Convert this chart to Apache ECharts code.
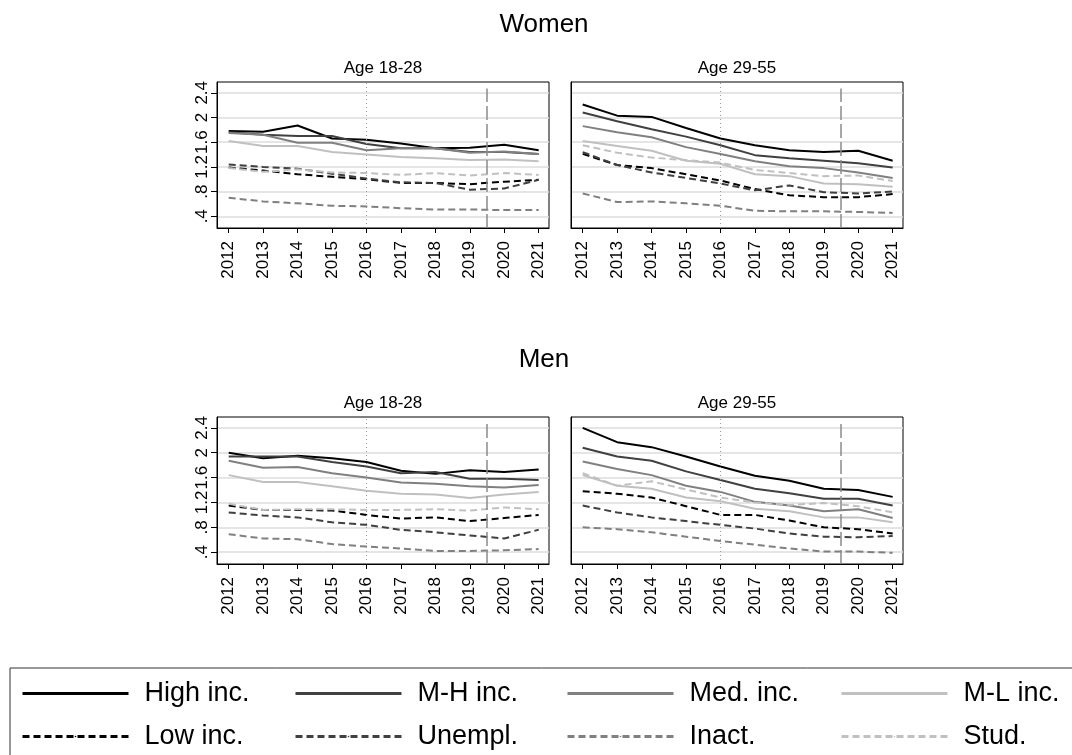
<!DOCTYPE html>
<html><head><meta charset="utf-8">
<script src="https://cdn.jsdelivr.net/npm/echarts@6/dist/echarts.min.js"></script>
<style>html,body{margin:0;padding:0;background:#fff}#c{width:1072px;height:755px}</style>
</head><body><div id="c"></div>
<script>
// ---------- data ----------
const years = [2012, 2013, 2014, 2015, 2016, 2017, 2018, 2019, 2020, 2021];
const yTicks = [0.4, 0.8, 1.2, 1.6, 2.0, 2.4];
const yTickLabels = ['.4', '.8', '1.2', '1.6', '2', '2.4'];
const seriesNames = ['High inc.', 'M-H inc.', 'Med. inc.', 'M-L inc.', 'Low inc.', 'Unempl.', 'Inact.', 'Stud.'];
const groupTitles = ['Women', 'Men'];
const panelTitles = ['Age 18-28', 'Age 29-55'];
const refYear = 2016;
const breakYear = 2019.5;

// Women, age 18-28
const wY_high  = [1.78, 1.77, 1.87, 1.66, 1.64, 1.58, 1.50, 1.51, 1.56, 1.47];
const wY_mh    = [1.76, 1.72, 1.70, 1.70, 1.57, 1.50, 1.50, 1.44, 1.44, 1.41];
const wY_med   = [1.75, 1.72, 1.59, 1.59, 1.47, 1.50, 1.50, 1.43, 1.45, 1.41];
const wY_ml    = [1.62, 1.54, 1.54, 1.44, 1.40, 1.36, 1.34, 1.31, 1.32, 1.29];
const wY_low   = [1.19, 1.14, 1.08, 1.04, 1.00, 0.94, 0.94, 0.92, 0.96, 0.99];
const wY_unemp = [1.24, 1.20, 1.17, 1.09, 1.01, 0.95, 0.94, 0.83, 0.85, 0.99];
const wY_inact = [0.70, 0.64, 0.61, 0.57, 0.56, 0.53, 0.51, 0.51, 0.50, 0.50];
const wY_stud  = [1.18, 1.12, 1.16, 1.11, 1.10, 1.07, 1.10, 1.06, 1.10, 1.07];

// Women, age 29-55
const wO_high  = [2.21, 2.03, 2.01, 1.83, 1.66, 1.55, 1.47, 1.44, 1.46, 1.30];
const wO_mh    = [2.08, 1.94, 1.81, 1.69, 1.55, 1.39, 1.34, 1.30, 1.26, 1.19];
const wO_med   = [1.86, 1.76, 1.68, 1.52, 1.41, 1.29, 1.21, 1.18, 1.11, 1.02];
const wO_ml    = [1.62, 1.54, 1.46, 1.30, 1.25, 1.08, 1.05, 0.93, 0.92, 0.88];
const wO_low   = [1.41, 1.23, 1.18, 1.08, 0.98, 0.84, 0.74, 0.71, 0.71, 0.76];
const wO_unemp = [1.44, 1.23, 1.11, 1.02, 0.93, 0.82, 0.90, 0.79, 0.77, 0.80];
const wO_inact = [0.77, 0.63, 0.64, 0.61, 0.57, 0.49, 0.48, 0.48, 0.47, 0.455];
const wO_stud  = [1.55, 1.43, 1.35, 1.31, 1.27, 1.15, 1.10, 1.05, 1.06, 0.97];

// Men, age 18-28
const mY_high  = [2.00, 1.91, 1.95, 1.91, 1.85, 1.71, 1.66, 1.72, 1.69, 1.73];
const mY_mh    = [1.94, 1.94, 1.94, 1.85, 1.78, 1.67, 1.69, 1.58, 1.58, 1.56];
const mY_med   = [1.87, 1.76, 1.77, 1.67, 1.60, 1.52, 1.50, 1.46, 1.44, 1.48];
const mY_ml    = [1.64, 1.53, 1.53, 1.46, 1.39, 1.34, 1.33, 1.27, 1.33, 1.37];
const mY_low   = [1.15, 1.08, 1.08, 1.07, 1.00, 0.94, 0.96, 0.90, 0.95, 1.00];
const mY_unemp = [1.04, 0.99, 0.96, 0.88, 0.84, 0.76, 0.72, 0.67, 0.62, 0.76];
const mY_inact = [0.69, 0.62, 0.61, 0.53, 0.49, 0.46, 0.42, 0.42, 0.43, 0.45];
const mY_stud  = [1.18, 1.08, 1.09, 1.09, 1.08, 1.08, 1.09, 1.07, 1.12, 1.09];

// Men, age 29-55
const mO_high  = [2.40, 2.17, 2.09, 1.94, 1.78, 1.63, 1.55, 1.42, 1.40, 1.29];
const mO_mh    = [2.08, 1.94, 1.87, 1.70, 1.56, 1.42, 1.35, 1.26, 1.26, 1.15];
const mO_med   = [1.86, 1.74, 1.64, 1.47, 1.37, 1.21, 1.15, 1.06, 1.09, 0.95];
const mO_ml    = [1.64, 1.47, 1.42, 1.28, 1.22, 1.10, 1.06, 0.96, 0.96, 0.88];
const mO_low   = [1.38, 1.34, 1.28, 1.14, 1.00, 1.00, 0.91, 0.80, 0.77, 0.70];
const mO_unemp = [1.15, 1.04, 0.96, 0.90, 0.84, 0.78, 0.70, 0.65, 0.64, 0.66];
const mO_inact = [0.80, 0.77, 0.72, 0.65, 0.58, 0.52, 0.46, 0.41, 0.41, 0.39];
const mO_stud  = [1.67, 1.47, 1.54, 1.41, 1.28, 1.20, 1.16, 1.19, 1.14, 1.04];

// ---------- build ----------
const panels = [
  [wY_high, wY_mh, wY_med, wY_ml, wY_low, wY_unemp, wY_inact, wY_stud],
  [wO_high, wO_mh, wO_med, wO_ml, wO_low, wO_unemp, wO_inact, wO_stud],
  [mY_high, mY_mh, mY_med, mY_ml, mY_low, mY_unemp, mY_inact, mY_stud],
  [mO_high, mO_mh, mO_med, mO_ml, mO_low, mO_unemp, mO_inact, mO_stud]
];
const colors = ['#000000', '#404040', '#808080', '#c0c0c0', '#000000', '#404040', '#808080', '#c0c0c0'];
const dash = [7, 4];
const lineTypes = ['solid', 'solid', 'solid', 'solid', dash, dash, dash, dash];
const FONT = 'Liberation Sans, Arial, sans-serif';

const gridBoxes = [
  {left: 217, top: 82, width: 332, height: 146},
  {left: 571, top: 82, width: 332, height: 146},
  {left: 217, top: 417, width: 332, height: 147},
  {left: 571, top: 417, width: 332, height: 147}
];
const X_MIN = 2011.66, X_MAX = 2021.30, Y_MIN = 0.21, Y_MAX = 2.575;

const grid = gridBoxes.map(b => Object.assign({show: true, borderColor: '#000', borderWidth: 1, backgroundColor: '#fff', containLabel: false}, b));

const xAxis = gridBoxes.map((b, i) => ({
  type: 'value', gridIndex: i, min: X_MIN, max: X_MAX,
  axisLine: {show: true, onZero: false, lineStyle: {color: '#000', width: 1}},
  axisTick: {show: true, customValues: years, length: 5, lineStyle: {color: '#000', width: 1}},
  axisLabel: {show: true, customValues: years, rotate: 90, fontSize: 17, color: '#000', fontFamily: FONT, margin: 13,
              formatter: v => String(Math.round(v))},
  splitLine: {show: false}
}));

const yAxis = gridBoxes.map((b, i) => ({
  type: 'value', gridIndex: i, min: Y_MIN, max: Y_MAX,
  axisLine: {show: true, onZero: false, lineStyle: {color: '#000', width: 1}},
  axisTick: {show: i % 2 === 0, customValues: yTicks, length: 6, lineStyle: {color: '#000', width: 1}},
  axisLabel: {show: i % 2 === 0, customValues: yTicks, rotate: 90, fontSize: 17, color: '#000', fontFamily: FONT, margin: 6,
              formatter: v => { const k = yTicks.findIndex(t => Math.abs(t - v) < 1e-6); return k >= 0 ? yTickLabels[k] : ''; }},
  splitLine: {show: true, lineStyle: {color: '#dcdcdc', width: 1.5}}
}));

const series = [];
panels.forEach((vals, p) => {
  vals.forEach((arr, s) => {
    const ser = {
      type: 'line', name: seriesNames[s], xAxisIndex: p, yAxisIndex: p,
      data: years.map((y, k) => [y, arr[k]]),
      symbol: 'none', showSymbol: false, animation: false, silent: true,
      lineStyle: {color: colors[s], width: 2, type: lineTypes[s]},
      itemStyle: {color: colors[s]},
      z: 3
    };
    if (s === 0) {
      ser.markLine = {
        silent: true, symbol: ['none', 'none'], animation: false,
        label: {show: false}, emphasis: {disabled: true},
        data: [
          {xAxis: refYear, lineStyle: {type: [1, 3], color: '#9a9a9a', width: 1}},
          [{coord: [breakYear, Y_MIN], lineStyle: {type: [14, 4], color: '#8a8a8a', width: 1.5}},
           {coord: [breakYear, 2.47]}]
        ]
      };
    }
    series.push(ser);
  });
});

const legendLefts = [21, 294, 566, 840];
const legend = legendLefts.map((lx, j) => ({
  left: lx, top: 680, orient: 'vertical', padding: 0,
  itemWidth: 106, itemHeight: 2, itemGap: 16, selectedMode: false,
  data: [seriesNames[j], seriesNames[j + 4]],
  lineStyle: {width: 3},
  textStyle: {fontSize: 27, color: '#000', fontFamily: FONT, padding: [0, 0, 0, 11]}
}));

const graphic = [
  {type: 'text', x: 544, y: 25, style: {text: groupTitles[0], font: '26px ' + FONT, fill: '#000', textAlign: 'center', textVerticalAlign: 'middle'}},
  {type: 'text', x: 544, y: 360, style: {text: groupTitles[1], font: '26px ' + FONT, fill: '#000', textAlign: 'center', textVerticalAlign: 'middle'}},
  {type: 'text', x: 383, y: 68, style: {text: panelTitles[0], font: '17px ' + FONT, fill: '#000', textAlign: 'center', textVerticalAlign: 'middle'}},
  {type: 'text', x: 737, y: 68, style: {text: panelTitles[1], font: '17px ' + FONT, fill: '#000', textAlign: 'center', textVerticalAlign: 'middle'}},
  {type: 'text', x: 383, y: 403, style: {text: panelTitles[0], font: '17px ' + FONT, fill: '#000', textAlign: 'center', textVerticalAlign: 'middle'}},
  {type: 'text', x: 737, y: 403, style: {text: panelTitles[1], font: '17px ' + FONT, fill: '#000', textAlign: 'center', textVerticalAlign: 'middle'}},
  {type: 'rect', shape: {x: 10, y: 668, width: 1100, height: 200}, style: {fill: 'none', stroke: '#333', lineWidth: 1}, silent: true}
];

const chart = echarts.init(document.getElementById('c'), null, {renderer: 'canvas'});
chart.setOption({
  backgroundColor: '#fff',
  animation: false,
  textStyle: {fontFamily: FONT},
  grid, xAxis, yAxis, series, legend, graphic
});
</script></body></html>
